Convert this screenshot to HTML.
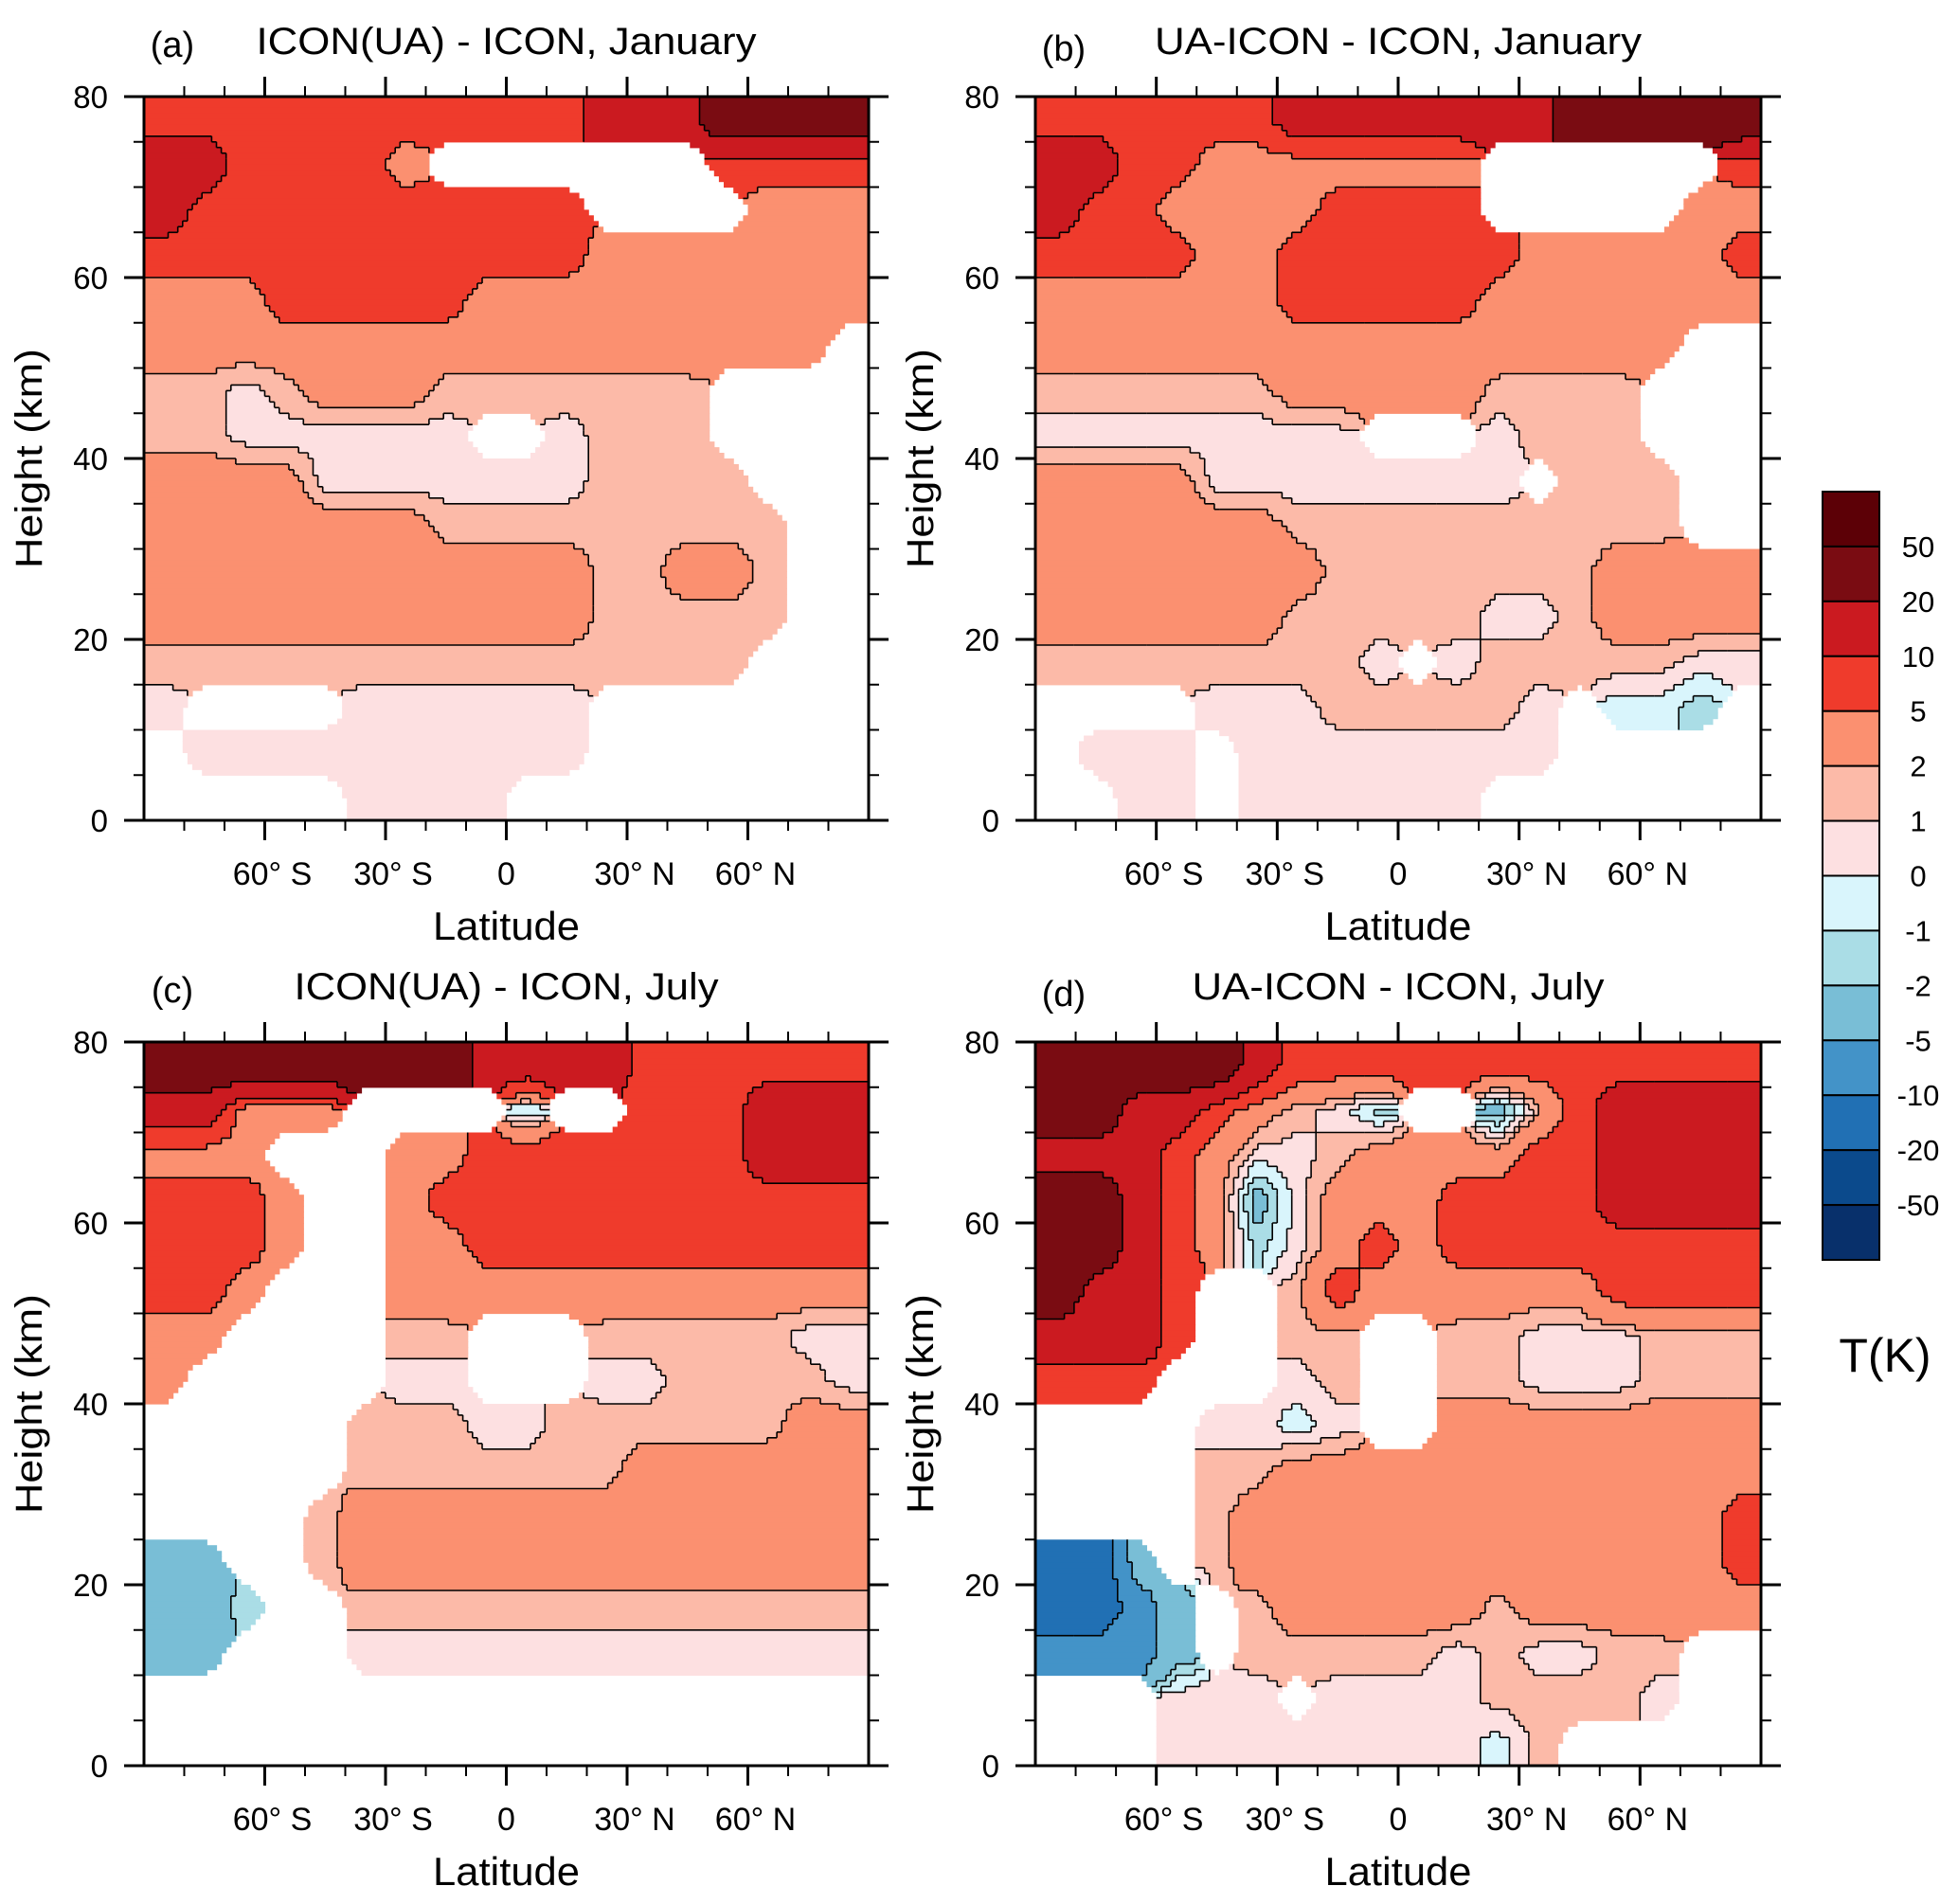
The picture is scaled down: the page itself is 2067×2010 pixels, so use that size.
<!DOCTYPE html>
<html><head><meta charset="utf-8"><style>
html,body{margin:0;padding:0;background:#fff;}
svg{display:block;font-family:"Liberation Sans",Arial,sans-serif;}
</style></head><body>
<svg id="fig" width="2067" height="2010" viewBox="0 0 2067 2010" xmlns="http://www.w3.org/2000/svg"></svg>
<script>
const N = null;
// latitude centers of the grid columns, height centers of grid rows (top to bottom)
const lats = [-85,-75,-65,-55,-45,-35,-25,-15,-5,5,15,25,35,45,55,65,75,85];
const heights = [77.5,72.5,67.5,62.5,57.5,52.5,47.5,42.5,37.5,32.5,27.5,22.5,17.5,12.5,7.5,2.5];
const levels = [-50,-20,-10,-5,-2,-1,0,1,2,5,10,20,50];
const levelLabels = ['50','20','10','5','2','1','0','-1','-2','-5','-10','-20','-50'];
const xTickVals = [-60,-30,0,30,60];
const xTickLabels = ['60° S','30° S','0','30° N','60° N'];
const yTickVals = [0,20,40,60,80];
const yTickLabels = ['0','20','40','60','80'];
const panelTitles = ['ICON(UA) - ICON, January','UA-ICON - ICON, January','ICON(UA) - ICON, July','UA-ICON - ICON, July'];
const panelLetters = ['(a)','(b)','(c)','(d)'];

const gridA = [
[7,7,7,7,7,7,7,7,7,7,7,15,15,15,30,30,30,30],
[15,15,7,7,7,7,3,N,N,N,N,N,N,N,7,7,7,7],
[15,7,7,7,7,7,7,7,7,7,7,N,N,N,N,3,3,3],
[7,7,7,7,7,7,7,7,7,7,7,3,3,3,3,3,3,3],
[3,3,3,7,7,7,7,7,3,3,3,3,3,3,3,3,3,3],
[3,3,3,3,3,3,3,3,3,3,3,3,3,3,3,3,3,N],
[1.5,1.5,0.5,1.5,3,3,3,1.5,1.5,1.5,1.5,1.5,1.5,1.5,N,N,N,N],
[1.5,1.5,0.5,0.5,0.5,0.5,0.5,0.5,N,N,0.5,1.5,1.5,1.5,N,N,N,N],
[3,3,3,3,0.5,0.5,0.5,0.5,0.5,0.5,0.5,1.5,1.5,1.5,1.5,N,N,N],
[3,3,3,3,3,3,3,1.5,1.5,1.5,1.5,1.5,1.5,1.5,1.5,1.5,N,N],
[3,3,3,3,3,3,3,3,3,3,3,1.5,1.5,3,3,1.5,N,N],
[3,3,3,3,3,3,3,3,3,3,3,1.5,1.5,1.5,1.5,1.5,N,N],
[1.5,1.5,1.5,1.5,1.5,1.5,1.5,1.5,1.5,1.5,1.5,1.5,1.5,1.5,1.5,N,N,N],
[0.5,N,N,N,N,0.5,0.5,0.5,0.5,0.5,0.5,N,N,N,N,N,N,N],
[N,0.5,0.5,0.5,0.5,0.5,0.5,0.5,0.5,0.5,0.5,N,N,N,N,N,N,N],
[N,N,N,N,N,0.5,0.5,0.5,0.5,N,N,N,N,N,N,N,N,N]];
const gridB = [
[7,7,7,7,7,7,15,15,15,15,15,15,15,30,30,30,30,30],
[15,15,7,7,3,3,3,3,3,3,3,N,N,N,N,N,N,7],
[15,7,7,3,3,3,3,7,7,7,7,N,N,N,N,N,3,3],
[7,7,7,7,3,3,7,7,7,7,7,7,3,3,3,3,3,7],
[3,3,3,3,3,3,7,7,7,7,7,3,3,3,3,3,3,3],
[3,3,3,3,3,3,3,3,3,3,3,3,3,3,3,3,N,N],
[1.5,1.5,1.5,1.5,1.5,1.5,3,3,3,3,3,1.5,1.5,1.5,1.5,N,N,N],
[0.5,0.5,0.5,0.5,0.5,0.5,0.5,0.5,N,N,N,0.5,1.5,1.5,1.5,N,N,N],
[3,3,3,3,0.5,0.5,0.5,0.5,0.5,0.5,0.5,0.5,N,1.5,1.5,1.5,N,N],
[3,3,3,3,3,3,1.5,1.5,1.5,1.5,1.5,1.5,1.5,1.5,1.5,1.5,N,N],
[3,3,3,3,3,3,3,1.5,1.5,1.5,1.5,1.5,1.5,1.5,3,3,3,3],
[3,3,3,3,3,3,1.5,1.5,1.5,1.5,1.5,0.5,0.5,1.5,3,3,3,3],
[1.5,1.5,1.5,1.5,1.5,1.5,1.5,1.5,0.5,N,0.5,1.5,1.5,1.5,1.5,1.5,0.5,0.5],
[N,N,N,N,0.5,0.5,0.5,1.5,1.5,1.5,1.5,1.5,0.5,N,-0.5,-0.5,-1.5,N],
[N,0.5,0.5,0.5,N,0.5,0.5,0.5,0.5,0.5,0.5,0.5,0.5,N,N,N,N,N],
[N,N,0.5,0.5,N,0.5,0.5,0.5,0.5,0.5,0.5,N,N,N,N,N,N,N]];
const gridC = [
[30,30,30,30,30,30,30,30,15,15,15,15,7,7,7,7,7,7],
[15,15,3,3,3,N,N,N,N,-1.5,N,N,7,7,7,15,15,15],
[3,3,3,N,N,N,3,3,7,7,7,7,7,7,7,15,15,15],
[7,7,7,3,N,N,3,7,7,7,7,7,7,7,7,7,7,7],
[7,7,7,3,N,N,3,3,7,7,7,7,7,7,7,7,7,7],
[7,7,3,N,N,N,3,3,3,3,3,3,3,3,3,3,3,3],
[3,3,N,N,N,N,1.5,1.5,N,N,N,1.5,1.5,1.5,1.5,1.5,0.5,0.5],
[3,N,N,N,N,N,0.5,0.5,N,N,N,0.5,0.5,1.5,1.5,1.5,1.5,0.5],
[N,N,N,N,N,1.5,1.5,1.5,0.5,0.5,1.5,1.5,1.5,1.5,1.5,1.5,3,3],
[N,N,N,N,N,1.5,1.5,1.5,1.5,1.5,1.5,1.5,3,3,3,3,3,3],
[N,N,N,N,1.5,3,3,3,3,3,3,3,3,3,3,3,3,3],
[-3,-3,N,N,1.5,3,3,3,3,3,3,3,3,3,3,3,3,3],
[-3,-3,-1.5,N,N,1.5,1.5,1.5,1.5,1.5,1.5,1.5,1.5,1.5,1.5,1.5,1.5,1.5],
[-3,-3,N,N,N,0.5,0.5,0.5,0.5,0.5,0.5,0.5,0.5,0.5,0.5,0.5,0.5,0.5],
[N,N,N,N,N,N,N,N,N,N,N,N,N,N,N,N,N,N],
[N,N,N,N,N,N,N,N,N,N,N,N,N,N,N,N,N,N]];
const gridD = [
[30,30,30,30,30,15,7,7,7,7,7,7,7,7,7,7,7,7],
[30,30,15,15,7,3,1.5,0.5,-1.5,N,N,-3,1.5,7,15,15,15,15],
[15,15,15,7,3,0.5,0.5,1.5,3,3,3,3,7,7,15,15,15,15],
[30,30,15,7,3,-3,0.5,3,3,3,7,7,7,7,15,15,15,15],
[30,30,15,7,3,-1.5,0.5,3,7,3,7,7,7,7,7,7,7,7],
[30,15,15,7,N,N,1.5,7,3,3,3,3,3,3,7,7,7,7],
[15,15,15,7,N,N,1.5,1.5,N,N,1.5,1.5,0.5,0.5,0.5,1.5,1.5,1.5],
[7,7,7,N,N,N,0.5,1.5,N,N,1.5,1.5,0.5,0.5,0.5,1.5,1.5,1.5],
[N,N,N,N,0.5,0.5,-0.5,0.5,N,N,3,3,3,3,3,3,3,3],
[N,N,N,N,1.5,1.5,3,3,3,3,3,3,3,3,3,3,3,3],
[N,N,N,N,1.5,3,3,3,3,3,3,3,3,3,3,3,3,7],
[-15,-15,-3,N,1.5,3,3,3,3,3,3,3,3,3,3,3,3,7],
[-15,-15,-7,-3,N,1.5,3,3,3,3,3,1.5,3,3,3,3,3,3],
[-7,-7,-7,-3,N,1.5,1.5,1.5,1.5,1.5,0.5,1.5,0.5,0.5,1.5,1.5,N,N],
[N,N,N,0.5,0.5,0.5,N,0.5,0.5,0.5,0.5,1.5,1.5,1.5,1.5,0.5,N,N],
[N,N,N,0.5,0.5,0.5,0.5,0.5,0.5,0.5,0.5,-0.5,1.5,N,N,N,N,N]];

const COLORS = ['#08306b','#0b4a8c','#2170b4','#4393c8','#79bed6','#aadde6','#d9f5fc','#fde0e1','#fcbaa8','#fb9070','#ef3b2c','#cb1a20','#7a0c12','#5c0006'];
const grids = [gridA,gridB,gridC,gridD];
const boxes = [
  {x0:152,x1:917,y0:102,y1:866,name:'panel-a'},
  {x0:1093,x1:1859,y0:102,y1:866,name:'panel-b'},
  {x0:152,x1:917,y0:1100,y1:1864,name:'panel-c'},
  {x0:1093,x1:1859,y0:1100,y1:1864,name:'panel-d'}];
const titleWidths=[528,514,448,435];

const NS='http://www.w3.org/2000/svg';
const svg=document.getElementById('fig');
function mk(tag,attrs,parent){const e=document.createElementNS(NS,tag);for(const k in attrs)e.setAttribute(k,attrs[k]);(parent||svg).appendChild(e);return e;}
function levelIndex(v){if(v===null)return -1;let i=0;while(i<levels.length&&v>levels[i])i++;return i;}
function sample(g,lat,h){
  let fc=(lat-lats[0])/10, fr=(heights[0]-h)/5;
  fc=Math.max(0,Math.min(lats.length-1,fc)); fr=Math.max(0,Math.min(heights.length-1,fr));
  const c0=Math.floor(fc),r0=Math.floor(fr),c1=Math.min(c0+1,lats.length-1),r1=Math.min(r0+1,heights.length-1);
  const tc=fc-c0,tr=fr-r0;
  const pts=[[g[r0][c0],(1-tc)*(1-tr)],[g[r0][c1],tc*(1-tr)],[g[r1][c0],(1-tc)*tr],[g[r1][c1],tc*tr]];
  let m=0,s=0,ws=0;
  pts.forEach(([v,w])=>{if(v!==null){m+=w;s+=v*w;ws+=w;}});
  if(m<0.5||ws===0)return null;
  return s/ws;
}

boxes.forEach((B,p)=>{
  const g=grids[p];
  const X=lat=>B.x0+(lat+90)/180*(B.x1-B.x0);
  const Y=h=>B.y1-h/80*(B.y1-B.y0);
  const grp=mk('g',{});
  
  
  const NX=150,NY=128;
  const idx=[];
  for(let j=0;j<NY;j++){
    const h=80-(j+0.5)*80/NY; idx.push([]);
    for(let i=0;i<NX;i++){const lat=-90+(i+0.5)*180/NX;idx[j].push(levelIndex(sample(g,lat,h)));}
  }
  const cw=(B.x1-B.x0)/NX, ch=(B.y1-B.y0)/NY;
  for(let j=0;j<NY;j++){
    let runStart=0,run=idx[j][0];
    for(let i=1;i<=NX;i++){
      const k=i<NX?idx[j][i]:-2;
      if(k!==run){
        if(run>=0){
          const r=mk('rect',{x:(B.x0+runStart*cw).toFixed(1),y:(B.y0+j*ch).toFixed(1),width:((i-runStart)*cw+0.6).toFixed(1),height:(ch+0.6).toFixed(1),fill:COLORS[run]},grp);
          
          
        }
        runStart=i;run=k;
      }
    }
  }
  // contour lines between coloured levels
  let d='';
  for(let j=0;j<NY;j++)for(let i=0;i<NX;i++){
    const a=idx[j][i]; if(a<0)continue;
    if(i+1<NX){const b=idx[j][i+1]; if(b>=0&&b!==a){const x=B.x0+(i+1)*cw;d+=`M${x.toFixed(1)} ${(B.y0+j*ch).toFixed(1)}v${ch.toFixed(2)}`;}}
    if(j+1<NY){const b=idx[j+1][i]; if(b>=0&&b!==a){const y=B.y0+(j+1)*ch;d+=`M${(B.x0+i*cw).toFixed(1)} ${y.toFixed(1)}h${cw.toFixed(2)}`;}}
  }
  const cl=mk('path',{d:d,stroke:'#000','stroke-width':1.6,fill:'none'});
  
  
  // frame
  const fr=mk('rect',{x:B.x0,y:B.y0,width:B.x1-B.x0,height:B.y1-B.y0,fill:'none',stroke:'#000','stroke-width':3});
  
  
  const ax=mk('g',{stroke:'#000'});
  
  
  for(let lat=-80;lat<=80;lat+=10){
    const major=xTickVals.indexOf(lat)>=0, L=major?21:11, w=major?3:2;
    mk('line',{x1:X(lat),x2:X(lat),y1:B.y0,y2:B.y0-L,'stroke-width':w},ax);
    mk('line',{x1:X(lat),x2:X(lat),y1:B.y1,y2:B.y1+L,'stroke-width':w},ax);
  }
  for(let h=0;h<=80;h+=5){
    const major=yTickVals.indexOf(h)>=0, L=major?21:11, w=major?3:2;
    mk('line',{x1:B.x0,x2:B.x0-L,y1:Y(h),y2:Y(h),'stroke-width':w},ax);
    mk('line',{x1:B.x1,x2:B.x1+L,y1:Y(h),y2:Y(h),'stroke-width':w},ax);
  }
  xTickVals.forEach((v,k)=>{
    const t=mk('text',{x:X(v)+(v===0?0:8),y:B.y1+68,'font-size':34,'text-anchor':'middle'});
    t.textContent=xTickLabels[k];
    
    
  });
  yTickVals.forEach((v,k)=>{
    const t=mk('text',{x:B.x0-38,y:Y(v)+12,'font-size':33,'text-anchor':'end'});
    t.textContent=yTickLabels[k];
    
    
  });
  const xt=mk('text',{x:(B.x0+B.x1)/2,y:B.y1+126,'font-size':42,'text-anchor':'middle',textLength:155,lengthAdjust:'spacingAndGlyphs'});
  xt.textContent='Latitude';
  
  
  const cy=(B.y0+B.y1)/2, cx=B.x0-108;
  const yt=mk('text',{x:cx,y:cy,'font-size':40,'text-anchor':'middle',transform:`rotate(-90 ${cx} ${cy})`,textLength:232,lengthAdjust:'spacingAndGlyphs'});
  yt.textContent='Height (km)';
  
  
  const tt=mk('text',{x:(B.x0+B.x1)/2,y:B.y0-45,'font-size':40,'text-anchor':'middle',textLength:titleWidths[p],lengthAdjust:'spacingAndGlyphs'});
  tt.textContent=panelTitles[p];
  
  
  const lt=mk('text',{x:B.x0+30,y:B.y0-(p%2?38:42),'font-size':38,'text-anchor':'middle'});
  lt.textContent=panelLetters[p];
  
  
});

const cb={x0:1924,x1:1984,y0:519,y1:1330};
const cbg=mk('g',{});


const nb=COLORS.length, bh=(cb.y1-cb.y0)/nb;
for(let k=0;k<nb;k++){
  const r=mk('rect',{x:cb.x0,y:cb.y0+k*bh,width:cb.x1-cb.x0,height:bh,fill:COLORS[nb-1-k],stroke:'#000','stroke-width':2},cbg);
  
  
}
levelLabels.forEach((s,k)=>{
  const t=mk('text',{x:2025,y:cb.y0+(k+1)*bh+11,'font-size':31,'text-anchor':'middle'},cbg);
  t.textContent=s;
  
  
});
const tk=mk('text',{x:1990,y:1448,'font-size':50,'text-anchor':'middle'});
tk.textContent='T(K)';


</script>
</body></html>
